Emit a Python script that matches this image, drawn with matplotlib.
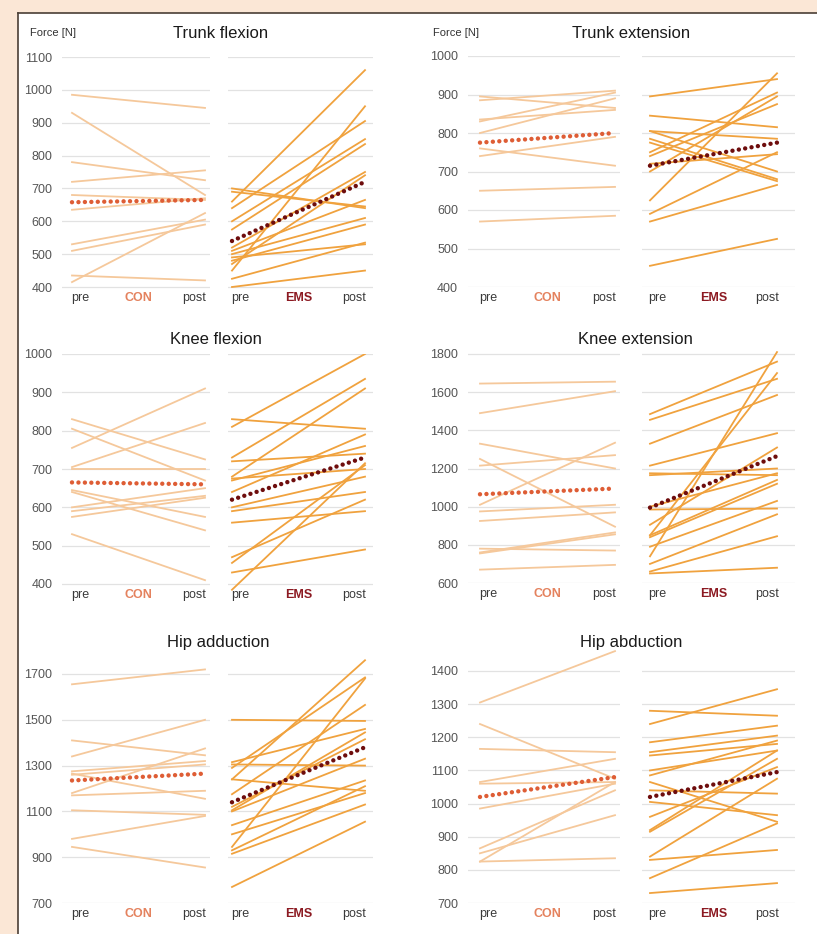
import matplotlib.pyplot as plt
from matplotlib.patches import Rectangle
from matplotlib.lines import Line2D

plt.rcParams['font.family'] = ['Liberation Sans', 'DejaVu Sans']

W, H = 817, 934

# ---- data (Force [N]) ----
titles = ['Trunk flexion', 'Trunk extension', 'Knee flexion',
          'Knee extension', 'Hip adduction', 'Hip abduction']

tf_con_pre = [985, 930, 780, 720, 680, 635, 530, 510, 415, 435]
tf_con_post = [945, 680, 725, 755, 665, 670, 605, 590, 625, 420]
tf_ems_pre = [660, 450, 640, 600, 575, 520, 700, 690, 510, 500, 480, 490, 425, 400, 470]
tf_ems_post = [1060, 950, 905, 850, 835, 750, 640, 645, 665, 610, 590, 530, 535, 450, 740]
tf_mean_con = [658, 665]
tf_mean_ems = [540, 720]

te_con_pre = [895, 885, 835, 830, 800, 760, 740, 650, 570]
te_con_post = [865, 910, 860, 905, 890, 715, 790, 660, 585]
te_ems_pre = [895, 845, 805, 805, 785, 775, 750, 740, 700, 625, 590, 570, 455, 720]
te_ems_post = [940, 815, 700, 785, 680, 675, 905, 875, 895, 955, 750, 665, 525, 745]
te_mean_con = [775, 800]
te_mean_ems = [715, 775]

kf_con_pre = [755, 705, 830, 805, 700, 645, 640, 600, 590, 575, 530]
kf_con_post = [910, 820, 725, 670, 700, 575, 540, 650, 630, 625, 410]
kf_ems_pre = [810, 730, 680, 830, 720, 670, 675, 640, 600, 590, 560, 470, 455, 430, 385]
kf_ems_post = [1000, 935, 910, 805, 740, 760, 700, 790, 680, 640, 590, 620, 710, 490, 715]
kf_mean_con = [665, 660]
kf_mean_ems = [620, 730]

ke_con_pre = [1645, 1490, 1330, 1250, 1215, 1010, 975, 925, 780, 760, 755, 670]
ke_con_post = [1655, 1605, 1200, 895, 1270, 1335, 1010, 970, 770, 865, 855, 695]
ke_ems_pre = [1485, 1455, 1330, 1215, 1175, 1165, 985, 740, 850, 905, 850, 840,
              700, 660, 650, 790, 1000]
ke_ems_post = [1760, 1670, 1585, 1385, 1165, 1200, 990, 1810, 1700, 1310, 1140, 1120,
               960, 845, 680, 1030, 1175]
ke_mean_con = [1065, 1095]
ke_mean_ems = [995, 1265]

ha_con_pre = [1655, 1340, 1410, 1275, 1265, 1180, 1170, 1105, 980, 945, 1260]
ha_con_post = [1720, 1500, 1345, 1320, 1155, 1375, 1190, 1085, 1080, 855, 1305]
ha_ems_pre = [1500, 1315, 1305, 1290, 1240, 1240, 1175, 1105, 1100, 1040, 1000,
              945, 930, 915, 770, 1120]
ha_ems_post = [1495, 1460, 1300, 1685, 1760, 1190, 1565, 1445, 1330, 1235, 1180,
               1680, 1210, 1130, 1055, 1415]
ha_mean_con = [1235, 1265]
ha_mean_ems = [1140, 1380]

hb_con_pre = [1305, 1240, 1165, 1065, 1060, 985, 865, 850, 825, 825]
hb_con_post = [1460, 1075, 1155, 1135, 1065, 1060, 1040, 965, 1065, 835]
hb_ems_pre = [1240, 1280, 1185, 1155, 1145, 1100, 1085, 1065, 1005, 960, 920,
              915, 840, 830, 775, 730, 1040]
hb_ems_post = [1345, 1265, 1235, 1205, 1180, 1160, 1190, 945, 965, 1110, 1160,
               1135, 1075, 860, 940, 760, 1030]
hb_mean_con = [1020, 1080]
hb_mean_ems = [1020, 1095]

yticks = [range(400, 1101, 100), range(400, 1001, 100), range(400, 1001, 100),
          range(600, 1801, 200), range(700, 1701, 200), range(700, 1401, 100)]
ylims = [(395, 1100), (400, 1000), (380, 1000), (600, 1815), (700, 1790), (700, 1470)]

panels = [
    (tf_con_pre, tf_con_post, tf_ems_pre, tf_ems_post, tf_mean_con, tf_mean_ems),
    (te_con_pre, te_con_post, te_ems_pre, te_ems_post, te_mean_con, te_mean_ems),
    (kf_con_pre, kf_con_post, kf_ems_pre, kf_ems_post, kf_mean_con, kf_mean_ems),
    (ke_con_pre, ke_con_post, ke_ems_pre, ke_ems_post, ke_mean_con, ke_mean_ems),
    (ha_con_pre, ha_con_post, ha_ems_pre, ha_ems_post, ha_mean_con, ha_mean_ems),
    (hb_con_pre, hb_con_post, hb_ems_pre, hb_ems_post, hb_mean_con, hb_mean_ems),
]

# ---- layout in pixels ----
# x: (pre px, post px, xlim) for CON and EMS, left and right column
xcols = [
    [(72, 205, (-0.075, 1.04)), (232, 365, (-0.03, 1.06))],
    [(480, 615, (-0.09, 1.04)), (650, 777, (-0.06, 1.14))],
]
# y: (px of lowest tick, px of highest tick) per panel
yrows = [(287, 57), (287, 56), (584, 354), (583, 354), (903, 674), (903, 671)]
title_xy = [(221, 33), (631, 33), (216, 340), (635, 340), (218, 643), (631, 642)]

CON_LINE = '#f5c89b'
EMS_LINE = '#f0a23e'
CON_MEAN = '#de5d35'
EMS_MEAN = '#6e0d0d'
CON_TXT = '#e4825e'
EMS_TXT = '#8c1a22'

fig = plt.figure(figsize=(W / 100, H / 100), dpi=100)
fig.patch.set_facecolor('#fbe7d6')
fig.add_artist(Rectangle((18 / W, 0), 1, 1 - 13 / H, transform=fig.transFigure,
                         facecolor='white', edgecolor='none', zorder=0))
fig.add_artist(Line2D([18 / W, 18 / W], [0, 1 - 13 / H], transform=fig.transFigure,
                      color='#4a3e36', lw=1.2))
fig.add_artist(Line2D([18 / W, 1], [1 - 13 / H, 1 - 13 / H], transform=fig.transFigure,
                      color='#4a3e36', lw=1.2))


def make_axes(p0, p1, xlim, ylo_px, yhi_px, ticks, ylim):
    ticks = list(ticks)
    ppu = (ylo_px - yhi_px) / (ticks[-1] - ticks[0])
    bot = ylo_px + (ticks[0] - ylim[0]) * ppu
    top = yhi_px - (ylim[1] - ticks[-1]) * ppu
    left = p0 + xlim[0] * (p1 - p0)
    right = p0 + xlim[1] * (p1 - p0)
    ax = fig.add_axes([left / W, 1 - bot / H, (right - left) / W, (bot - top) / H])
    ax.set_xlim(*xlim)
    ax.set_ylim(*ylim)
    ax.set_yticks(ticks)
    ax.grid(axis='y', color='#e2e2e2', lw=0.9)
    ax.set_axisbelow(True)
    for s in ax.spines.values():
        s.set_visible(False)
    ax.set_xticks([])
    ax.tick_params(axis='y', length=0, pad=7, labelsize=9, labelcolor='#555555')
    ax.patch.set_alpha(0)
    return ax


def mean_line(ax, vals, color):
    ax.plot([0, 1], vals, color=color, lw=3.2, linestyle=(0, (0.001, 1.45)),
            dash_capstyle='round', zorder=5)


def group_labels(ax, y0, grp, gc):
    # labels sit 11 px below the lowest gridline
    for x, s, c, wgt in ((0.06, 'pre', '#3a3a3a', 'normal'),
                         (0.5, grp, gc, 'bold'),
                         (0.92, 'post', '#3a3a3a', 'normal')):
        ax.annotate(s, (x, y0), xycoords='data', xytext=(0, -11),
                    textcoords='offset pixels', ha='center', va='center',
                    fontsize=9, color=c, fontweight=wgt, annotation_clip=False)


for i, (cpre, cpost, epre, epost, mcon, mems) in enumerate(panels):
    col = i % 2
    ylo, yhi = yrows[i]
    (cp0, cp1, cxl), (ep0, ep1, exl) = xcols[col]
    axc = make_axes(cp0, cp1, cxl, ylo, yhi, yticks[i], ylims[i])
    axe = make_axes(ep0, ep1, exl, ylo, yhi, yticks[i], ylims[i])
    axe.tick_params(axis='y', labelleft=False)

    for a, b in zip(cpre, cpost):
        axc.plot([0, 1], [a, b], color=CON_LINE, lw=1.3, zorder=3)
    for a, b in zip(epre, epost):
        axe.plot([0, 1], [a, b], color=EMS_LINE, lw=1.3, zorder=3)
    mean_line(axc, mcon, CON_MEAN)
    mean_line(axe, mems, EMS_MEAN)

    y0 = list(yticks[i])[0]
    group_labels(axc, y0, 'CON', CON_TXT)
    group_labels(axe, y0, 'EMS', EMS_TXT)

    tx, ty = title_xy[i]
    fig.text(tx / W, 1 - ty / H, titles[i], ha='center', va='center',
             fontsize=12, color='#1a1a1a')

fig.text(30 / W, 1 - 33 / H, 'Force [N]', ha='left', va='center', fontsize=8, color='#333333')
fig.text(433 / W, 1 - 33 / H, 'Force [N]', ha='left', va='center', fontsize=8, color='#333333')

fig.savefig('out.png', dpi=100, facecolor=fig.get_facecolor())
